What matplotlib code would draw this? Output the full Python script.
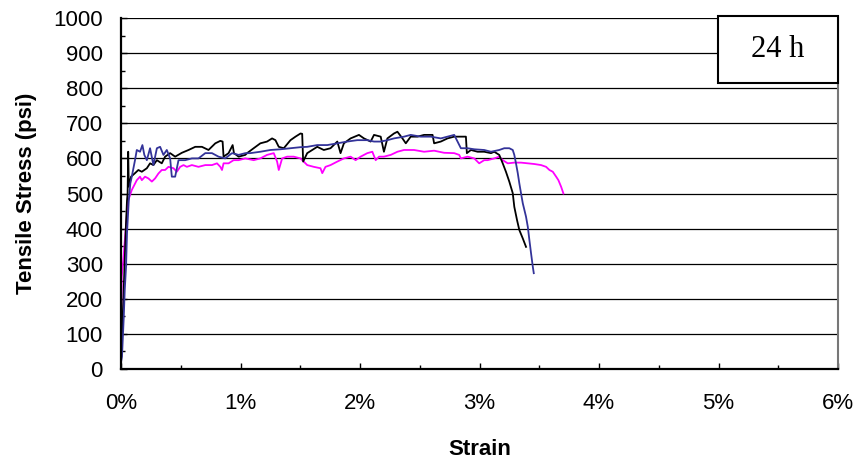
import matplotlib.pyplot as plt
from matplotlib.patches import Rectangle
from matplotlib.ticker import MultipleLocator

dpi = 100
plt.rcParams['font.family'] = ['Liberation Sans', 'DejaVu Sans']

black_strain = [0.0, 0.02, 0.04, 0.05, 0.055, 0.06, 0.065, 0.084, 0.117, 0.145, 0.174, 0.216, 0.243,
                0.271, 0.300, 0.341, 0.369, 0.411, 0.453, 0.509, 0.565, 0.621, 0.677, 0.732, 0.789,
                0.831, 0.850, 0.858, 0.900, 0.934, 0.945, 0.984, 1.040, 1.055, 1.110, 1.166, 1.222,
                1.264, 1.292, 1.320, 1.362, 1.418, 1.460, 1.502, 1.516, 1.524, 1.558, 1.600, 1.642,
                1.697, 1.753, 1.810, 1.837, 1.865, 1.921, 1.991, 2.033, 2.089, 2.117, 2.173, 2.200,
                2.229, 2.284, 2.313, 2.355, 2.383, 2.424, 2.481, 2.536, 2.607, 2.620, 2.676, 2.732,
                2.788, 2.886, 2.894, 2.928, 2.984, 3.039, 3.096, 3.123, 3.165, 3.194, 3.221, 3.249,
                3.278, 3.291, 3.314, 3.333, 3.362, 3.389]
black_stress = [30, 200, 400, 480, 500, 619, 520, 548, 558, 567, 562, 572, 586,
                581, 595, 586, 605, 615, 605, 616, 624, 633, 633, 624, 643,
                650, 648, 605, 615, 638, 615, 605, 610, 615, 629, 643, 648,
                657, 652, 633, 629, 652, 662, 671, 670, 591, 615, 624, 633,
                624, 629, 648, 615, 643, 657, 667, 657, 648, 667, 662, 619,
                657, 671, 676, 657, 643, 662, 662, 667, 667, 643, 648, 657,
                662, 662, 615, 624, 619, 619, 615, 619, 610, 586, 562, 534,
                501, 462, 424, 396, 372, 348]

blue_strain = [0.0, 0.008, 0.023, 0.031, 0.042, 0.050, 0.065, 0.078, 0.090, 0.117, 0.132, 0.159,
               0.179, 0.195, 0.216, 0.243, 0.271, 0.300, 0.327, 0.355, 0.383, 0.411, 0.425, 0.453,
               0.481, 0.537, 0.593, 0.648, 0.705, 0.761, 0.816, 0.872, 0.929, 0.984, 1.040, 1.082,
               1.166, 1.250, 1.334, 1.418, 1.502, 1.558, 1.642, 1.726, 1.810, 1.893, 1.977, 2.061,
               2.117, 2.173, 2.229, 2.284, 2.368, 2.424, 2.508, 2.592, 2.676, 2.732, 2.788, 2.816,
               2.844, 2.900, 2.956, 3.039, 3.096, 3.165, 3.207, 3.249, 3.278, 3.291, 3.305, 3.320,
               3.333, 3.347, 3.362, 3.389, 3.404, 3.417, 3.431, 3.446, 3.454]
blue_stress = [20, 35, 149, 225, 291, 387, 481, 529, 548, 595, 624, 619,
               638, 610, 595, 629, 581, 629, 633, 610, 624, 600, 548, 548,
               595, 595, 600, 600, 615, 615, 605, 600, 615, 610, 615, 615,
               619, 624, 626, 629, 632, 633, 638, 638, 643, 648, 652, 652,
               648, 648, 652, 657, 662, 667, 662, 662, 657, 662, 667, 648,
               629, 629, 626, 624, 619, 624, 629, 629, 624, 610, 586, 558,
               529, 501, 472, 434, 405, 368, 330, 291, 273]

pink_strain = [0.0, 0.006, 0.019, 0.034, 0.048, 0.061, 0.090, 0.132, 0.159, 0.174, 0.201, 0.229,
               0.258, 0.285, 0.313, 0.341, 0.369, 0.397, 0.439, 0.467, 0.495, 0.523, 0.551, 0.593,
               0.648, 0.705, 0.761, 0.803, 0.831, 0.845, 0.858, 0.900, 0.942, 0.984, 1.040, 1.110,
               1.166, 1.222, 1.278, 1.306, 1.320, 1.348, 1.390, 1.445, 1.502, 1.558, 1.613, 1.669,
               1.684, 1.711, 1.753, 1.810, 1.865, 1.921, 1.963, 2.005, 2.061, 2.103, 2.131, 2.159,
               2.200, 2.257, 2.313, 2.368, 2.452, 2.536, 2.620, 2.704, 2.788, 2.830, 2.844, 2.900,
               2.956, 2.997, 3.039, 3.068, 3.123, 3.165, 3.194, 3.236, 3.291, 3.347, 3.404, 3.459,
               3.515, 3.557, 3.585, 3.613, 3.641, 3.660, 3.683, 3.702]
pink_stress = [60, 263, 310, 377, 434, 481, 510, 538, 548, 538, 548, 543,
               534, 543, 557, 567, 567, 576, 572, 562, 576, 581, 576, 581,
               576, 581, 581, 586, 576, 567, 586, 586, 595, 595, 600, 595,
               600, 610, 615, 591, 567, 600, 605, 605, 600, 581, 576, 572,
               558, 576, 581, 591, 600, 605, 595, 605, 615, 619, 595, 605,
               605, 610, 619, 624, 624, 619, 622, 616, 615, 610, 600, 605,
               600, 586, 595, 595, 600, 605, 595, 586, 588, 588, 586, 584,
               581, 576, 567, 562, 548, 538, 519, 500]

x_ticks = [0, 1, 2, 3, 4, 5, 6]
x_labels = ['0%', '1%', '2%', '3%', '4%', '5%', '6%']
y_ticks = list(range(0, 1001, 100))

fig = plt.figure(figsize=(8.62, 4.63), dpi=dpi)
ax = fig.add_axes([0.1404, 0.2030, 0.8318, 0.7581])

ax.plot(pink_strain, pink_stress, color='#FF00FF', lw=1.3)
ax.plot(black_strain, black_stress, color='black', lw=1.3)
ax.plot(blue_strain, blue_stress, color='#333399', lw=1.3)

ax.set_xlim(0, 6)
ax.set_ylim(0, 1000)
ax.set_xticks(x_ticks)
ax.set_xticklabels(x_labels)
ax.set_yticks(y_ticks)
ax.xaxis.set_minor_locator(MultipleLocator(0.5))
ax.yaxis.set_minor_locator(MultipleLocator(50))
ax.tick_params(which='both', direction='in', labelsize=16, width=1)
ax.tick_params(which='major', length=4.5)
ax.tick_params(which='minor', length=3)
ax.tick_params(axis='y', pad=13)
ax.tick_params(axis='x', pad=17)

ax.grid(axis='y', color='black', lw=0.9)
ax.set_axisbelow(True)

ax.spines['left'].set_linewidth(1.6)
ax.spines['bottom'].set_linewidth(1.6)
ax.spines['top'].set_visible(False)
ax.spines['right'].set_color('#777777')
ax.spines['right'].set_linewidth(1.5)

ax.set_xlabel('Strain', fontsize=16, fontweight='bold', labelpad=18)
ax.set_ylabel('Tensile Stress (psi)', fontsize=16, fontweight='bold', labelpad=12)

box = Rectangle((0.833, 0.815), 0.167, 0.191, transform=ax.transAxes, facecolor='white',
                edgecolor='black', lw=1.5, clip_on=False, zorder=5)
ax.add_patch(box)
ax.text(0.9165, 0.91, '24 h', transform=ax.transAxes, ha='center', va='center',
        fontsize=22, family=['Liberation Serif', 'DejaVu Serif'], zorder=6)

plt.savefig('out.png', dpi=dpi)
plt.close()
